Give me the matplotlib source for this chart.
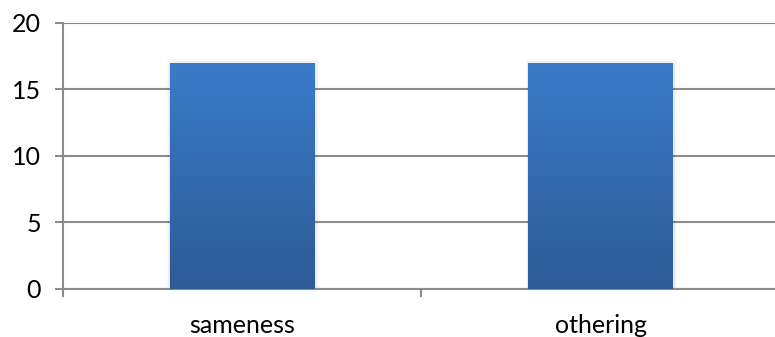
import numpy as np
import matplotlib.pyplot as plt
from matplotlib.colors import LinearSegmentedColormap
from matplotlib.patches import Rectangle

categories = ["sameness", "othering"]
values = [17, 17]
yticks = [0, 5, 10, 15, 20]

plt.rcParams['font.family'] = ['Lato', 'DejaVu Sans']

fig = plt.figure(figsize=(7.75, 3.37), dpi=100)
ax = fig.add_axes([63 / 775, 1 - 289 / 337, 717 / 775, 266 / 337])

x = np.arange(len(categories))
bars = ax.bar(x, values, width=0.404, color='none', zorder=3)

# vertical blue gradient inside each bar, soft shadow around it
cmap = LinearSegmentedColormap.from_list('bar', ['#2d5b96', '#3a7bc8'])
grad = np.linspace(0, 1, 256).reshape(-1, 1)
for b in bars:
    x0, y0 = b.get_x(), b.get_y()
    w, h = b.get_width(), b.get_height()
    for i, a in enumerate([0.04, 0.03, 0.02]):
        dx = 0.004 * (i + 1)
        ax.add_patch(Rectangle((x0 - dx * 0.6, y0), w + dx * 1.6, h + 0.12 * (i + 1) - 0.1,
                               facecolor='#000000', alpha=a, edgecolor='none', zorder=2))
    im = ax.imshow(grad, cmap=cmap, origin='lower', aspect='auto',
                   extent=(x0, x0 + w, y0, y0 + h), zorder=4)
    im.set_clip_path(b)

ax.set_xlim(-0.5, 1.5)
ax.set_ylim(0, 20)
ax.set_yticks(yticks)
ax.set_xticks(x)
ax.set_xticklabels(categories)
ax.set_xticks([-0.5, 0.5, 1.5], minor=True)

ax.grid(axis='y', color='#8c8c8c', linewidth=1.5, zorder=1)
for s in ['top', 'right']:
    ax.spines[s].set_visible(False)
for s in ['left', 'bottom']:
    ax.spines[s].set_color('#8c8c8c')
    ax.spines[s].set_linewidth(1.5)

ax.tick_params(axis='y', length=6, width=1.5, color='#8c8c8c', labelsize=18, pad=10)
ax.tick_params(axis='x', which='major', length=0, labelsize=18, pad=18)
ax.tick_params(axis='x', which='minor', length=6, width=1.5, color='#8c8c8c')

fig.savefig('out.png', dpi=100)
